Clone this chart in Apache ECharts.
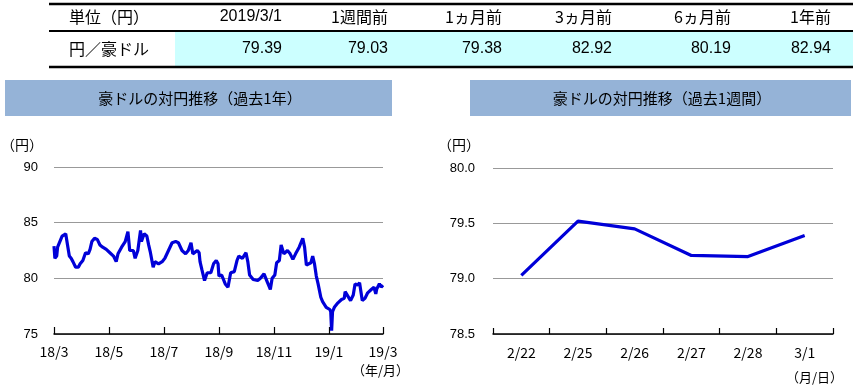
<!DOCTYPE html>
<html><head><meta charset="utf-8">
<script src="https://cdn.jsdelivr.net/npm/echarts@6/dist/echarts.min.js"></script>
<style>html,body{margin:0;padding:0;background:#fff}#c{width:857px;height:389px}</style>
</head><body><div id="c"></div>
<script>
// ---- table data ----
const tableHeaders = ['2019/3/1', '1週間前', '1ヵ月前', '3ヵ月前', '6ヵ月前', '1年前'];
const tableUnitLabel = '単位（円）';
const tableRowLabel = '円／豪ドル';
const tableValues = [79.39, 79.03, 79.38, 82.92, 80.19, 82.94];

// ---- past 1 year (days since 2018-03-01) ----
const yearTickLabels = ['18/3', '18/5', '18/7', '18/9', '18/11', '19/1', '19/3'];
const yearDays = [0,1,3,4,6,9,10,13,15,17,19,21,24,27,29,32,35,38,40,42,45,48,51,54,58,62,66,69,71,75,79,82,84,88,90,93,96,97,100,103,105,107,110,112,116,120,123,127,131,135,138,142,146,149,152,154,159,161,162,164,167,170,174,177,180,182,183,186,188,190,193,196,200,203,205,209,213,215,217,221,226,229,233,236,239,240,242,245,247,250,252,255,259,262,265,268,272,274,276,278,280,282,285,287,289,291,293,296,298,302,306,307,308,309,311,315,319,322,323,326,329,332,334,337,339,342,345,348,352,355,356,357,358,361,362,363,364,365];
const yearValues = [82.9,81.8,82.0,82.8,82.7,83.8,83.9,84.0,83.0,82.0,81.8,81.5,81.0,81.0,81.3,81.6,82.3,82.2,82.6,83.3,83.6,83.5,83.0,82.8,82.6,82.3,82.0,81.5,82.2,82.8,83.3,84.2,82.5,82.5,81.8,82.5,84.3,83.3,84.0,83.8,83.0,82.3,81.0,81.5,81.3,81.5,81.8,82.5,83.2,83.3,83.2,82.5,82.2,82.5,83.2,82.2,82.5,82.3,81.5,80.8,79.8,80.5,80.5,81.3,81.6,81.3,80.2,80.3,80.2,79.5,79.2,80.5,80.6,81.6,82.0,81.8,82.3,81.5,80.3,79.9,79.8,80.0,80.4,79.8,79.2,79.0,80.0,80.3,81.4,81.6,83.0,82.2,82.5,82.2,81.7,82.2,82.8,82.9,83.6,82.8,81.2,81.3,81.4,82.0,81.3,80.2,79.5,78.3,77.9,77.4,77.2,77.0,75.3,77.0,77.4,77.8,78.1,78.2,78.8,78.4,78.0,78.5,79.5,79.4,79.6,78.0,78.2,78.7,79.0,79.2,79.3,78.6,79.03,79.52,79.45,79.21,79.20,79.39];
const yearTickDays = [0, 61, 122, 183, 244, 305, 365];

// ---- past 1 week ----
const weekCategories = ['2/22', '2/25', '2/26', '2/27', '2/28', '3/1'];
const weekValues = [79.03, 79.52, 79.45, 79.21, 79.20, 79.39];

const JP = "'Noto Sans CJK JP'";
const LS = "'Liberation Sans', Arial";
const lineColor = '#0000D8';
const bannerColor = '#95B3D7';

const colRight = [282, 388, 502, 612, 731, 831];

function txt(text, x, y, font, align) {
  return { type: 'text', x: x, y: y, silent: true, z: 10,
    style: { text: text, font: font, fill: '#000', align: align || 'left', verticalAlign: 'middle',
             textAlign: align || 'left', textVerticalAlign: 'middle' } };
}
function hline(x1, x2, y, w) {
  return { type: 'line', silent: true, z: 5, shape: { x1: x1, y1: y, x2: x2, y2: y }, style: { stroke: '#000', lineWidth: w } };
}

const graphics = [];
graphics.push({ type: 'rect', silent: true, z: 1, shape: { x: 175, y: 31, width: 678, height: 36 }, style: { fill: '#CCFFFF' } });
graphics.push(hline(49, 853, 4, 2.5));
graphics.push(hline(49, 853, 31, 2));
graphics.push(hline(49, 853, 67, 2.5));
graphics.push(txt(tableUnitLabel, 69, 17, '16px ' + JP));
graphics.push(txt(tableRowLabel, 69, 49, '16px ' + JP));
tableHeaders.forEach((h, i) => {
  const isNum = /^[0-9\/]+$/.test(h);
  graphics.push(txt(h, colRight[i], 17, isNum ? ('16px ' + LS) : ('16px ' + JP), 'right'));
});
tableValues.forEach((v, i) => {
  graphics.push(txt(v.toFixed(2), colRight[i], 49, '16px ' + LS, 'right'));
});
// banners
graphics.push({ type: 'rect', silent: true, z: 1, shape: { x: 5, y: 80, width: 387, height: 36 }, style: { fill: bannerColor } });
graphics.push(txt('豪ドルの対円推移（過去1年）', 200, 98, '15px ' + JP, 'center'));
graphics.push({ type: 'rect', silent: true, z: 1, shape: { x: 470, y: 80, width: 381, height: 36 }, style: { fill: bannerColor } });
graphics.push(txt('豪ドルの対円推移（過去1週間）', 662, 98, '15px ' + JP, 'center'));
// unit labels
graphics.push(txt('（円）', 1, 145, '14px ' + JP));
graphics.push(txt('（円）', 438, 145, '14px ' + JP));
graphics.push(txt('（年/月）', 409, 370, '13px ' + JP, 'right'));
graphics.push(txt('（月/日）', 843, 377, '13px ' + JP, 'right'));

const chart = echarts.init(document.getElementById('c'), null, { renderer: 'canvas' });
chart.setOption({
  animation: false,
  backgroundColor: '#fff',
  graphic: graphics,
  grid: [
    { left: 54, top: 167, width: 329, height: 167, containLabel: false },
    { left: 493, top: 168, width: 340, height: 166, containLabel: false }
  ],
  xAxis: [
    { gridIndex: 0, type: 'value', min: 0, max: 365, interval: 61,
      axisLine: { show: true, lineStyle: { color: '#000', width: 1.5 } },
      axisTick: { show: true, inside: true, length: 7, lineStyle: { color: '#000', width: 1.2 } },
      splitLine: { show: false },
      axisLabel: { margin: 11, fontSize: 14, fontFamily: 'Noto Sans CJK JP', color: '#000',
        showMinLabel: true, showMaxLabel: true,
        formatter: function (v) {
          let best = 0, bd = 1e9;
          yearTickDays.forEach((d, i) => { if (Math.abs(d - v) < bd) { bd = Math.abs(d - v); best = i; } });
          return yearTickLabels[best];
        } } },
    { gridIndex: 1, type: 'category', data: weekCategories, boundaryGap: true,
      axisLine: { show: true, lineStyle: { color: '#000', width: 1.5 } },
      axisTick: { show: true, inside: true, length: 6, lineStyle: { color: '#000', width: 1.2 } },
      axisLabel: { margin: 12, fontSize: 14, fontFamily: 'Noto Sans CJK JP', color: '#000' } }
  ],
  yAxis: [
    { gridIndex: 0, type: 'value', min: 75, max: 90, interval: 5,
      axisLine: { show: false }, axisTick: { show: false },
      splitLine: { show: true, lineStyle: { color: '#999', width: 1 } },
      axisLabel: { margin: 16, fontSize: 13, fontFamily: 'Liberation Sans', color: '#000' } },
    { gridIndex: 1, type: 'value', min: 78.5, max: 80.0, interval: 0.5,
      axisLine: { show: false }, axisTick: { show: false },
      splitLine: { show: true, lineStyle: { color: '#999', width: 1 } },
      axisLabel: { margin: 18, fontSize: 13, fontFamily: 'Liberation Sans', color: '#000',
        formatter: v => v.toFixed(1) } }
  ],
  series: [
    { type: 'line', xAxisIndex: 0, yAxisIndex: 0, showSymbol: false, symbol: 'none',
      data: yearDays.map((d, i) => [d, yearValues[i]]),
      lineStyle: { color: lineColor, width: 3.2 }, z: 3 },
    { type: 'line', xAxisIndex: 1, yAxisIndex: 1, showSymbol: false, symbol: 'none',
      data: weekValues,
      lineStyle: { color: lineColor, width: 3.2 }, z: 3 }
  ]
});
</script></body></html>
